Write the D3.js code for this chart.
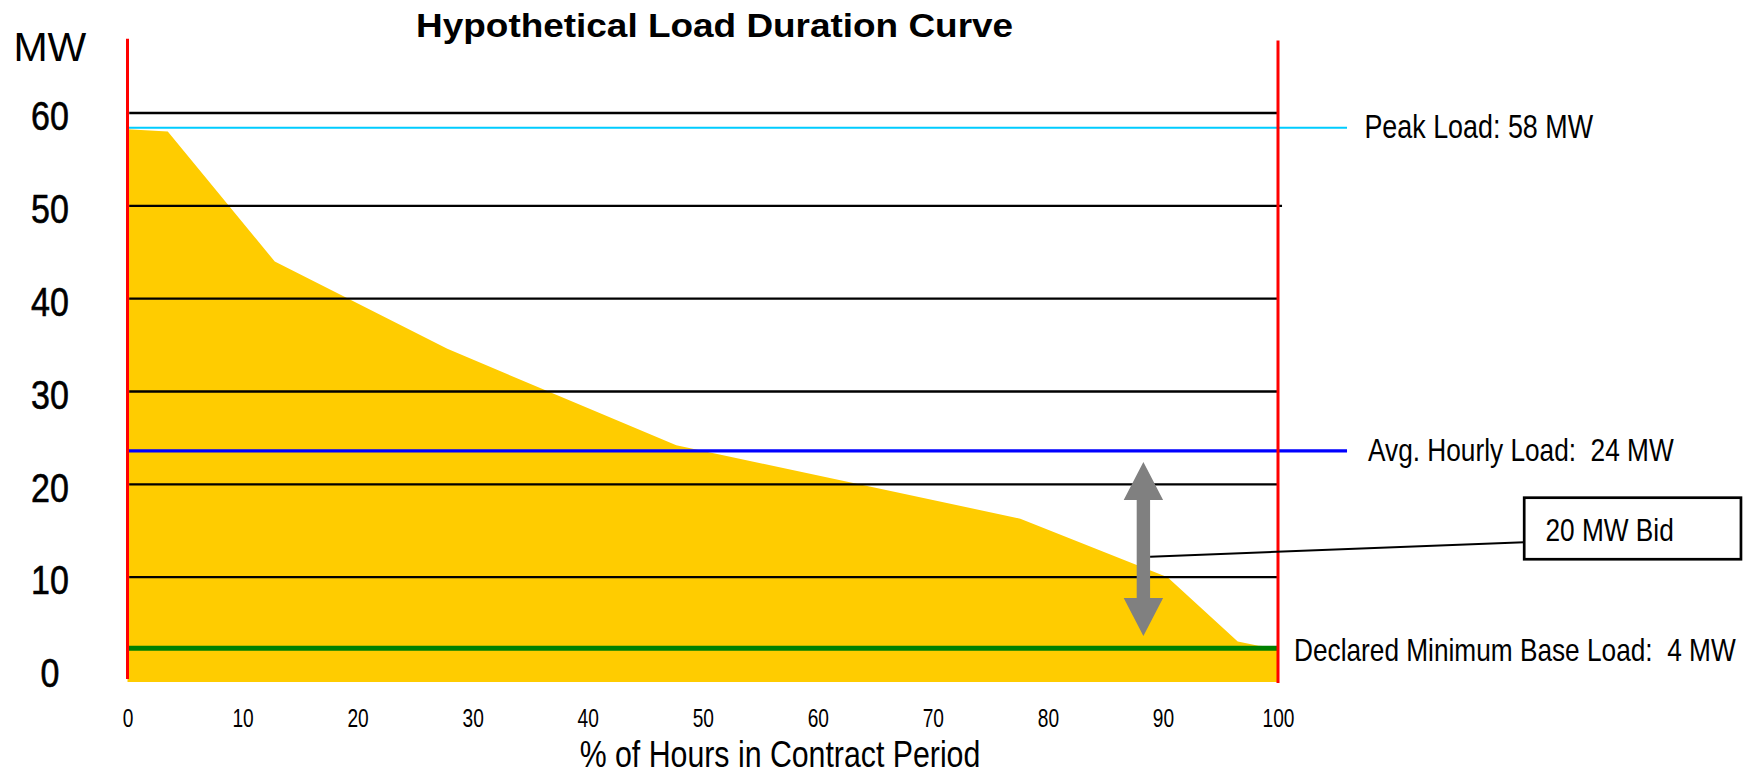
<!DOCTYPE html>
<html>
<head>
<meta charset="utf-8">
<script src="https://cdn.jsdelivr.net/npm/d3@7"></script>
<style>
  html, body { margin: 0; padding: 0; background: #fff; }
  svg { display: block; }
  text { font-family: 'Liberation Sans', Arial, sans-serif; }
</style>
</head>
<body>
<svg id="chart" width="1751" height="776"></svg>
<script>
// ---------------- data ----------------
const chartTitle = "Hypothetical Load Duration Curve";
const yAxisTitle = "MW";
const xAxisTitle = "% of Hours in Contract Period";
const xTicks = [0, 10, 20, 30, 40, 50, 60, 70, 80, 90, 100];
const yTicks = [0, 10, 20, 30, 40, 50, 60];
const gridValues = [10, 20, 30, 40, 50, 60];

// load duration curve vertices (% of hours, MW)
const curvePct = [0, 3.5, 12.8, 27.8, 47.7, 77.6, 90.4, 96.5, 98.3, 100];
const curveMW  = [58.25, 58.0, 44.0, 34.6, 24.2, 16.3, 10.0, 3.07, 2.6, 2.5];
const curveBaseMW = -1.3;

// reference lines
const refLabels = ["Peak Load: 58 MW", "Avg. Hourly Load:  24 MW", "Declared Minimum Base Load:  4 MW"];
const refMW     = [58.4, 23.6, 2.35];
const refEndPct = [106, 106, 100];
const refColors = ["#00ccff", "#0000ff", "#008000"];
const refWidths = [2, 3.4, 5];

// bid arrow (from base load up towards average load)
const bidLabel = "20 MW Bid";
const bidPct = 88.3;
const bidFromMW = 3.66;
const bidToMW = 22.4;

// ---------------- helpers ----------------
// condensed look: horizontal squeeze of Liberation Sans around the text anchor
function squeeze(sel, sx) {
  sel.each(function () {
    const t = d3.select(this);
    const tx = +t.attr("x") || 0, ty = +t.attr("y") || 0;
    t.attr("x", 0).attr("y", 0)
     .attr("transform", `translate(${tx},${ty}) scale(${sx},1)`);
  });
}

// ---------------- scales ----------------
const svg = d3.select("#chart");
const x = d3.scaleLinear().domain([0, 100]).range([127.5, 1278]);
const y = d3.scaleLinear().domain([0, 60]).range([670, 113]);

// ---------------- title ----------------
svg.append("text")
  .attr("x", 714.6).attr("y", 36.5)
  .attr("text-anchor", "middle")
  .attr("font-weight", "bold")
  .attr("font-size", 33.5)
  .attr("textLength", 597)
  .attr("lengthAdjust", "spacingAndGlyphs")
  .text(chartTitle);

svg.append("text")
  .attr("x", 13.4).attr("y", 61)
  .attr("font-size", 41)
  .text(yAxisTitle);

// ---------------- area ----------------
const curve = curvePct.map((p, i) => ({p, mw: curveMW[i]}));
const area = d3.area()
  .x(d => x(d.p))
  .y0(y(curveBaseMW))
  .y1(d => y(d.mw));
svg.append("path").datum(curve)
  .attr("d", area)
  .attr("fill", "#ffcc00");

// ---------------- grid ----------------
svg.append("g").selectAll("line").data(gridValues).join("line")
  .attr("x1", x(0.15)).attr("x2", d => d === 50 ? x(100.35) : x(100))
  .attr("y1", d => y(d)).attr("y2", d => y(d))
  .attr("stroke", "#000").attr("stroke-width", 2.3);

// ---------------- reference lines ----------------
const labelStart = [1364.4, 1368, 1294];
const labelDy = [10.5, 10, 12.4];
const labelSize = [32.8, 32, 32];
refMW.forEach((v, i) => {
  svg.append("line")
    .attr("x1", x(0.1)).attr("x2", x(refEndPct[i]))
    .attr("y1", y(v)).attr("y2", y(v))
    .attr("stroke", refColors[i]).attr("stroke-width", refWidths[i]);
  svg.append("text")
    .attr("x", labelStart[i]).attr("y", y(v) + labelDy[i])
    .attr("font-size", labelSize[i])
    .attr("fill", "#000")
    .style("white-space", "pre")
    .text(refLabels[i])
    .call(squeeze, 0.82);
});

// ---------------- red boundary lines ----------------
svg.append("line")
  .attr("x1", x(0)).attr("x2", x(0))
  .attr("y1", y(68.0)).attr("y2", y(-0.97))
  .attr("stroke", "#ff0000").attr("stroke-width", 3);
svg.append("line")
  .attr("x1", x(100)).attr("x2", x(100))
  .attr("y1", y(67.8)).attr("y2", y(-1.4))
  .attr("stroke", "#ff0000").attr("stroke-width", 3);

// ---------------- bid arrow ----------------
const ax = x(bidPct), aTop = y(bidToMW), aBot = y(bidFromMW);
const headL = 38, headW = 19.7, shaftW = 6.7;
const arrowPts = [
  [ax, aTop], [ax + headW, aTop + headL], [ax + shaftW, aTop + headL],
  [ax + shaftW, aBot - headL], [ax + headW, aBot - headL], [ax, aBot],
  [ax - headW, aBot - headL], [ax - shaftW, aBot - headL],
  [ax - shaftW, aTop + headL], [ax - headW, aTop + headL]
];
svg.append("path")
  .attr("d", d3.line()(arrowPts) + "Z")
  .attr("fill", "#808080");

// leader line and callout box
const boxX0 = x(121.4), boxX1 = x(140.24);
const boxY0 = y(18.56), boxY1 = y(11.93);
svg.append("line")
  .attr("x1", ax + shaftW).attr("y1", y(12.2))
  .attr("x2", boxX0).attr("y2", y(13.76))
  .attr("stroke", "#000").attr("stroke-width", 2);
svg.append("rect")
  .attr("x", boxX0).attr("y", boxY0)
  .attr("width", boxX1 - boxX0).attr("height", boxY1 - boxY0)
  .attr("fill", "#fff").attr("stroke", "#000").attr("stroke-width", 2.7);
svg.append("text")
  .attr("x", boxX0 + 21.3).attr("y", boxY0 + 43.3)
  .attr("font-size", 32)
  .text(bidLabel)
  .call(squeeze, 0.82);

// ---------------- axes ----------------
const yAxis = svg.append("g")
  .attr("transform", "translate(50,0)")
  .call(d3.axisLeft(y).tickValues(yTicks).tickSize(0).tickPadding(0));
yAxis.select(".domain").remove();
yAxis.attr("font-family", null);
yAxis.selectAll("text")
  .attr("x", 0).attr("y", 0)
  .attr("dy", "0.42em")
  .attr("text-anchor", "middle")
  .attr("font-size", 40)
  .attr("fill", "#000")
  .attr("stroke", "#000").attr("stroke-width", 0.6)
  .attr("transform", "scale(0.85,1)");

const xAxis = svg.append("g")
  .attr("transform", "translate(0,727)")
  .call(d3.axisBottom(x).tickValues(xTicks).tickSize(0).tickPadding(0));
xAxis.select(".domain").remove();
xAxis.attr("font-family", null);
xAxis.selectAll("text")
  .attr("y", 0).attr("dy", 0)
  .attr("font-size", 25.5)
  .attr("fill", "#000")
  .attr("transform", "scale(0.75,1)");

svg.append("text")
  .attr("x", 780).attr("y", 767)
  .attr("text-anchor", "middle")
  .attr("font-size", 36.5)
  .text(xAxisTitle)
  .call(squeeze, 0.83);
</script>
</body>
</html>
